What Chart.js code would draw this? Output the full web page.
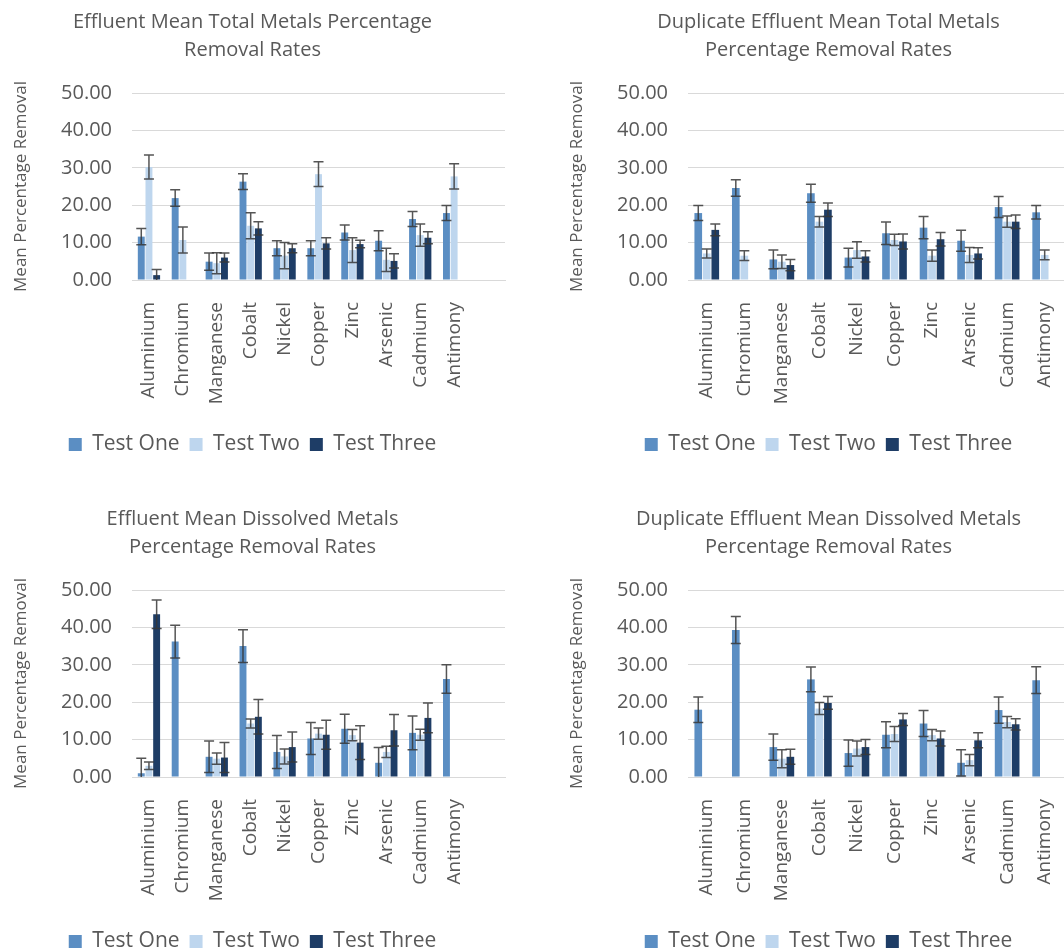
<!DOCTYPE html>
<html>
<head>
<meta charset="utf-8">
<script src="https://cdn.jsdelivr.net/npm/chart.js@4"></script>
<style>
  body { margin: 0; background: #fff; }
  #wrap { position: relative; width: 1064px; height: 949px; overflow: hidden; }
  #wrap canvas { position: absolute; }
</style>
</head>
<body>
<div id="wrap">
  <canvas id="totalChart" width="532" height="497" style="left:0;top:0"></canvas>
  <canvas id="dupTotalChart" width="572" height="497" style="left:556px;top:0"></canvas>
  <canvas id="dissolvedChart" width="532" height="497" style="left:0;top:497px"></canvas>
  <canvas id="dupDissolvedChart" width="572" height="497" style="left:556px;top:497px"></canvas>
</div>
<script>
'use strict';
//////////////// data

// last slot is an empty category, the excel sheet had a blank row
let metals = ['Aluminium', 'Chromium', 'Manganese', 'Cobalt', 'Nickel', 'Copper', 'Zinc', 'Arsenic', 'Cadmium', 'Antimony', ''];
let testNames = ['Test One', 'Test Two', 'Test Three'];
let yTicks = [0, 10, 20, 30, 40, 50];

// effluent total metals
let totalOne = [11.6, 21.9, 4.9, 26.3, 8.5, 8.5, 12.7, 10.5, 16.3, 17.9];
let totalOneErr = [2.2, 2.2, 2.3, 2.1, 2.0, 2.0, 2.0, 2.7, 2.0, 2.0];
let totalTwo = [30.2, 10.7, 4.5, 14.5, 6.5, 28.3, 8.0, 5.4, 12.0, 27.7];
let totalTwoErr = [3.2, 3.5, 2.8, 3.5, 3.5, 3.3, 3.3, 3.1, 3.0, 3.4];
let totalThree = [1.3, null, 6.0, 13.8, 8.5, 9.8, 9.6, 5.1, 11.3, null];
let totalThreeErr = [1.5, null, 1.2, 1.8, 1.2, 1.5, 1.0, 1.9, 1.6, null];

// duplicate effluent total metals
let dupTotalOne = [17.9, 24.6, 5.5, 23.2, 6.0, 12.5, 14.0, 10.5, 19.5, 18.1];
let dupTotalOneErr = [2.0, 2.2, 2.5, 2.4, 2.5, 3.0, 3.0, 2.8, 2.8, 1.8];
let dupTotalTwo = [7.1, 6.5, 4.9, 15.6, 8.0, 10.7, 6.5, 6.7, 15.6, 6.7];
let dupTotalTwoErr = [1.2, 1.3, 1.8, 1.4, 2.2, 1.5, 1.5, 2.0, 1.5, 1.3];
let dupTotalThree = [13.4, null, 4.0, 18.8, 6.3, 10.3, 10.9, 7.1, 15.6, null];
let dupTotalThreeErr = [1.6, null, 1.5, 1.8, 1.5, 2.0, 1.8, 1.5, 1.8, null];

// effluent dissolved metals
let dissOne = [1.0, 36.2, 5.4, 35.0, 6.7, 10.3, 12.9, 3.8, 11.8, 26.2];
let dissOneErr = [4.0, 4.4, 4.2, 4.4, 4.4, 4.3, 3.9, 4.1, 4.5, 3.8];
let dissTwo = [3.0, null, 4.9, 14.3, 5.5, 11.6, 11.2, 6.7, 11.3, null];
let dissTwoErr = [1.0, null, 1.5, 1.2, 2.0, 1.5, 1.5, 1.5, 1.5, null];
let dissThree = [43.5, null, 5.2, 16.1, 8.0, 11.3, 9.2, 12.5, 15.8, null];
let dissThreeErr = [3.8, null, 4.0, 4.6, 4.0, 3.9, 4.5, 4.2, 4.0, null];

// duplicate effluent dissolved metals
let dupDissOne = [18.0, 39.3, 8.0, 26.1, 6.4, 11.3, 14.3, 3.8, 17.9, 25.9];
let dupDissOneErr = [3.4, 3.6, 3.5, 3.3, 3.5, 3.5, 3.5, 3.5, 3.5, 3.6];
let dupDissTwo = [null, null, 4.9, 18.3, 7.6, 11.5, 11.2, 4.5, 14.7, null];
let dupDissTwoErr = [null, null, 2.4, 1.6, 2.0, 2.0, 1.5, 1.5, 1.5, null];
let dupDissThree = [null, null, 5.4, 19.8, 8.0, 15.4, 10.3, 9.8, 14.1, null];
let dupDissThreeErr = [null, null, 2.0, 1.7, 2.0, 1.6, 2.0, 2.0, 1.5, null];

let testColors = ['#5b8ec3', '#bed6ee', '#1e3d66'];

Chart.defaults.font.family = '\'Open Sans\', sans-serif';
Chart.defaults.color = '#595959';

//////////////// error bars plugin
let errorBars = {
  id: 'errorBars',
  afterDatasetsDraw(chart) {
    let ctx = chart.ctx;
    let yScale = chart.scales.y;
    let area = chart.chartArea;
    ctx.save();
    ctx.beginPath();
    ctx.rect(area.left, area.top - 10, area.right - area.left, area.bottom - area.top + 10);
    ctx.clip();
    ctx.strokeStyle = 'rgba(55, 55, 55, 0.85)';
    ctx.lineWidth = 1.5;
    chart.data.datasets.forEach(function (ds, i) {
      let meta = chart.getDatasetMeta(i);
      meta.data.forEach(function (bar, j) {
        let v = ds.data[j];
        let e = ds.errors[j];
        if (v === null || v === undefined || e === null || e === undefined) {
          return;
        }
        let top = yScale.getPixelForValue(v + e);
        let bot = yScale.getPixelForValue(v - e);
        let half = 5;
        ctx.beginPath();
        ctx.moveTo(bar.x, top);
        ctx.lineTo(bar.x, bot);
        ctx.moveTo(bar.x - half, top);
        ctx.lineTo(bar.x + half, top);
        ctx.moveTo(bar.x - half, bot);
        ctx.lineTo(bar.x + half, bot);
        ctx.stroke();
      });
    });
    ctx.restore();
  }
};

//////////////// chart builder
function makeChart(id, titleLines, values, errors) {
  let ctx = document.getElementById(id).getContext('2d');
  let datasets = [];
  for (let i = 0; i < testNames.length; i++) {
    datasets.push({
      label: testNames[i],
      data: values[i],
      errors: errors[i],
      backgroundColor: testColors[i],
      borderWidth: 0,
      categoryPercentage: 0.68,
      barPercentage: 0.9
    });
  }
  return new Chart(ctx, {
    type: 'bar',
    data: { labels: metals, datasets: datasets },
    plugins: [errorBars],
    options: {
      responsive: false,
      animation: false,
      layout: { padding: { left: 0, right: 27, top: 0, bottom: 32 } },
      plugins: {
        title: {
          display: true,
          text: titleLines,
          font: { size: 20, weight: 'normal', lineHeight: 1.4 },
          color: '#595959',
          padding: { top: 8, bottom: 29 }
        },
        legend: {
          position: 'bottom',
          labels: {
            font: { size: 21 },
            boxWidth: 13,
            boxHeight: 13,
            padding: 10,
            color: '#595959'
          }
        },
        tooltip: { enabled: false }
      },
      scales: {
        x: {
          grid: { display: false },
          border: { color: '#d9d9d9' },
          ticks: {
            autoSkip: false,
            minRotation: 90,
            maxRotation: 90,
            padding: 14,
            font: { size: 19 },
            color: '#595959'
          },
          afterFit: function (scale) { scale.height = 144; }
        },
        y: {
          min: yTicks[0],
          max: yTicks[yTicks.length - 1],
          grid: { color: '#d9d9d9', drawTicks: false },
          border: { display: false },
          ticks: {
            stepSize: yTicks[1] - yTicks[0],
            padding: 20,
            font: { size: 20 },
            color: '#595959',
            callback: function (v) { return v.toFixed(2); }
          },
          title: {
            display: true,
            text: 'Mean Percentage Removal',
            font: { size: 17 },
            color: '#595959',
            padding: { top: 11, bottom: 0 }
          },
          afterFit: function (scale) { scale.width = 132; }
        }
      }
    }
  });
}

makeChart('totalChart', ['Effluent Mean Total Metals Percentage', 'Removal Rates'],
  [totalOne, totalTwo, totalThree], [totalOneErr, totalTwoErr, totalThreeErr]);
makeChart('dupTotalChart', ['Duplicate Effluent Mean Total Metals', 'Percentage Removal Rates'],
  [dupTotalOne, dupTotalTwo, dupTotalThree], [dupTotalOneErr, dupTotalTwoErr, dupTotalThreeErr]);
makeChart('dissolvedChart', ['Effluent Mean Dissolved Metals', 'Percentage Removal Rates'],
  [dissOne, dissTwo, dissThree], [dissOneErr, dissTwoErr, dissThreeErr]);
makeChart('dupDissolvedChart', ['Duplicate Effluent Mean Dissolved Metals', 'Percentage Removal Rates'],
  [dupDissOne, dupDissTwo, dupDissThree], [dupDissOneErr, dupDissTwoErr, dupDissThreeErr]);
</script>
</body>
</html>
